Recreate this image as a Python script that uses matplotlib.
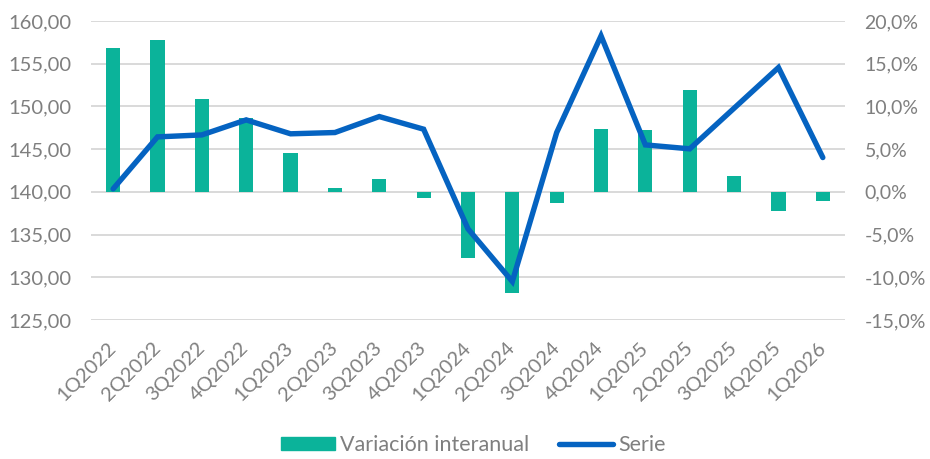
import numpy as np
import matplotlib.pyplot as plt
from matplotlib.patches import Patch
from matplotlib.lines import Line2D
from matplotlib.ticker import FuncFormatter

plt.rcParams['font.family'] = ['Lato', 'DejaVu Sans']

quarters = ['1Q2022', '2Q2022', '3Q2022', '4Q2022', '1Q2023', '2Q2023', '3Q2023',
            '4Q2023', '1Q2024', '2Q2024', '3Q2024', '4Q2024', '1Q2025', '2Q2025',
            '3Q2025', '4Q2025', '1Q2026']

# variación interanual (%), right axis
variacion = [16.8, 17.8, 10.9, 8.7, 4.5, 0.4, 1.5, -0.7, -7.7, -11.9, -1.3, 7.4,
             7.3, 11.9, 1.9, -2.3, -1.1]

# serie, left axis
serie = [140.35, 146.44, 146.67, 148.43, 146.80, 146.95, 148.82, 147.34, 135.67,
         129.50, 146.95, 158.27, 145.50, 145.04, 149.80, 154.56, 144.02]

grey = '#7F7F7F'
teal = '#0BB39A'
blue = '#0563C1'

fig = plt.figure(figsize=(9.3, 4.59), dpi=100)
ax = fig.add_axes([0.0978, 0.303, 0.8108, 0.651])
ax2 = ax.twinx()

x = np.arange(len(quarters))

ax2.bar(x, variacion, width=0.32, color=teal, zorder=2)
ax2.set_ylim(-15, 20)
ax2.set_yticks(np.arange(-15, 21, 5))
ax2.yaxis.set_major_formatter(FuncFormatter(lambda v, p: f'{v:.1f}%'.replace('.', ',')))
ax2.grid(axis='y', color='#D9D9D9', linewidth=1.4, zorder=0)
ax2.set_axisbelow(True)

ax.plot(x, serie, color=blue, linewidth=3.9, solid_capstyle='round', solid_joinstyle='miter', zorder=3)
ax.set_ylim(125, 160)
ax.set_yticks(np.arange(125, 161, 5))
ax.yaxis.set_major_formatter(FuncFormatter(lambda v, p: f'{v:.2f}'.replace('.', ',')))
ax.set_zorder(ax2.get_zorder() + 1)
ax.patch.set_visible(False)

ax.set_xlim(-0.5, len(quarters) - 0.5)
ax.set_xticks(x)
ax.set_xticklabels(quarters, rotation=45, ha='right', va='center', rotation_mode='anchor')

for a in (ax, ax2):
    for s in a.spines.values():
        s.set_visible(False)
    a.tick_params(length=0, labelsize=14.5, labelcolor=grey)
ax.tick_params(axis='y', pad=14)
ax2.tick_params(axis='y', pad=14, labelsize=14)
ax.tick_params(axis='x', pad=18)

handles = [Patch(color=teal), Line2D([0], [0], color=blue, linewidth=3.9, solid_capstyle='round')]
fig.legend(handles, ['Variación interanual', 'Serie'], loc='center', bbox_to_anchor=(0.509, 0.03),
           ncol=2, frameon=False, fontsize=15.5, labelcolor=grey, handlelength=2.5,
           handleheight=0.6, handletextpad=0.25, columnspacing=1.4)

fig.savefig('out.png', dpi=100)
